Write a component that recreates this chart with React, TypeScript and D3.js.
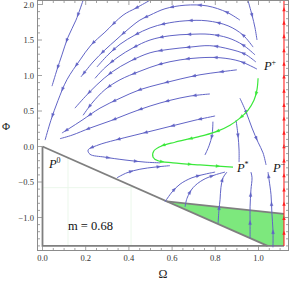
import React, { useEffect, useRef } from "react";
import * as d3 from "d3";

type Pt = [number, number];

// ---- streamlines (Ω, Φ), listed in flow direction ----
const streamA: Pt[] = [[0.188,2.06],[0.155,1.78],[0.118,1.54],[0.090,1.29],[0.067,1.08],[0.044,0.85]];
const streamB: Pt[] = [[0.498,2.06],[0.433,1.95],[0.373,1.85],[0.289,1.61],[0.225,1.43],[0.174,1.22],[0.113,0.94],[0.072,0.65],[0.039,0.37],[0.012,0.09]];
const streamTop: Pt[] = [[0.951,2.06],[0.970,1.85],[0.984,1.67],[0.993,1.50]];
const arc1: Pt[] = [[0.914,1.78],[0.854,1.89],[0.762,1.98],[0.660,1.99],[0.567,1.94],[0.498,1.85],[0.451,1.78],[0.396,1.65],[0.340,1.50],[0.289,1.36],[0.234,1.19],[0.178,0.98]];
const arc2: Pt[] = [[0.975,1.40],[0.928,1.57],[0.859,1.70],[0.762,1.77],[0.660,1.77],[0.567,1.73],[0.498,1.67],[0.428,1.57],[0.359,1.44],[0.303,1.29],[0.252,1.12]];
const arc3: Pt[] = [[0.984,1.29],[0.928,1.43],[0.859,1.53],[0.775,1.58],[0.683,1.58],[0.590,1.56],[0.498,1.50],[0.419,1.39],[0.350,1.26],[0.289,1.11],[0.243,0.96]];
const arc4: Pt[] = [[0.988,1.19],[0.938,1.30],[0.868,1.37],[0.775,1.42],[0.683,1.40],[0.590,1.37],[0.498,1.32],[0.405,1.20],[0.322,1.05],[0.252,0.87],[0.197,0.70],[0.150,0.54]];
const arc5: Pt[] = [[0.993,1.09],[0.914,1.20],[0.822,1.25],[0.729,1.25],[0.637,1.22],[0.544,1.16],[0.451,1.06],[0.359,0.94],[0.289,0.80],[0.229,0.61],[0.188,0.44]];
const arc6: Pt[] = [[0.900,1.08],[0.822,1.05],[0.729,1.01],[0.637,0.95],[0.544,0.88],[0.451,0.80],[0.359,0.68],[0.266,0.54],[0.183,0.37],[0.127,0.26],[0.090,0.19]];
const arc7: Pt[] = [[0.775,0.74],[0.683,0.71],[0.590,0.65],[0.498,0.57],[0.405,0.47],[0.313,0.36],[0.220,0.26],[0.137,0.16],[0.081,0.11]];
const arcU: Pt[] = [[0.799,0.43],[0.706,0.37],[0.613,0.30],[0.521,0.23],[0.428,0.16],[0.336,0.09],[0.257,0.02],[0.211,-0.05],[0.220,-0.11],[0.289,-0.15],[0.382,-0.19],[0.475,-0.22],[0.544,-0.23]];
const toPminus: Pt[] = [[0.914,0.68],[0.942,0.49],[0.970,0.26],[0.998,0.06],[1.021,-0.09],[1.035,-0.26]];
const aboveStar1: Pt[] = [[0.896,0.37],[0.905,0.16],[0.910,-0.05],[0.910,-0.22]];
const aboveStar2: Pt[] = [[0.789,0.35],[0.785,0.16],[0.771,0.01],[0.752,-0.12]];
const belowU: Pt[] = [[0.345,-0.44],[0.391,-0.37],[0.451,-0.32],[0.521,-0.29],[0.590,-0.27]];
const rise1: Pt[] = [[0.567,-0.78],[0.600,-0.64],[0.637,-0.53],[0.692,-0.44],[0.752,-0.39],[0.799,-0.36]];
const rise2: Pt[] = [[0.660,-0.85],[0.669,-0.73],[0.697,-0.58],[0.743,-0.47],[0.799,-0.40],[0.845,-0.36]];
const rise3: Pt[] = [[0.813,-1.08],[0.817,-0.89],[0.822,-0.75],[0.826,-0.58],[0.836,-0.44],[0.854,-0.36]];
const rise4: Pt[] = [[0.961,-1.29],[0.961,-1.06],[0.961,-0.85],[0.965,-0.61],[0.970,-0.44],[0.965,-0.36]];
const rise5: Pt[] = [[1.067,-1.42],[1.067,-1.18],[1.062,-0.94],[1.058,-0.68],[1.049,-0.47],[1.044,-0.36]];

const blueStreams: Pt[][] = [streamA, streamB, streamTop, arc1, arc2, arc3, arc4, arc5, arc6, arc7, arcU,
  toPminus, aboveStar1, aboveStar2, belowU, rise1, rise2, rise3, rise4, rise5];

// separatrix P+ -> P*
const greenStream: Pt[] = [[0.998,0.96],[0.993,0.80],[0.979,0.65],[0.951,0.51],[0.914,0.40],[0.868,0.30],[0.813,0.22],[0.752,0.16],[0.683,0.11],[0.613,0.06],[0.553,0.01],[0.516,-0.06],[0.512,-0.15],[0.535,-0.20],[0.604,-0.23],[0.729,-0.26],[0.882,-0.29]];

// invariant line Ω = Ω_max
const redOmega = 1.118;
const redPhiRange: [number, number] = [-1.40, 2.07];
const redArrowPhi = [1.93,1.74,1.55,1.35,1.16,0.98,0.78,0.58,0.39,0.19,0.0,-0.2,-0.41,-0.61,-0.81,-1.01,-1.22];

// physical region boundaries
const boundaryLeftBottom: Pt[] = [[0,0],[0,-1.40],[1.118,-1.40]];
const boundaryDiagonal: Pt[] = [[0,0],[1.042,-1.40]];
const boundaryUpper: Pt[] = [[0.575,-0.774],[1.118,-0.95]];
const greenRegion: Pt[] = [[0.575,-0.774],[1.118,-0.95],[1.118,-1.40],[1.042,-1.40]];
const meshV = [0.118, 0.41];
const meshH = [-0.58];

const xTicks = [0, 0.2, 0.4, 0.6, 0.8, 1.0];
const xTickLabels = ["0.0", "0.2", "0.4", "0.6", "0.8", "1.0"];
const yTicks = [-1.0, -0.5, 0, 0.5, 1.0, 1.5, 2.0];
const yTickLabels = ["\u22121.0", "\u22120.5", "0.0", "0.5", "1.0", "1.5", "2.0"];

const pointNames = ["0", "+", "*", "\u2212"];
const pointLabelAt: Pt[] = [[0.030, -0.30], [1.025, 1.08], [0.900, -0.36], [1.067, -0.36]];
const paramText = "m = 0.68";
const paramAt: Pt = [0.118, -1.18];

const W = 291, H = 282;
const BLUE = "#6164c6";
const GREEN = "#3be83b";
const RED = "#ff2020";
const FRAME = "#8c8c8c";

export default function App() {
  const ref = useRef<SVGSVGElement | null>(null);

  useEffect(() => {
    document.body.style.margin = "0";
    const svg = d3.select(ref.current);
    svg.selectAll("*").remove();

    const x = d3.scaleLinear().domain([0, 1]).range([42.5, 258.5]);
    const y = d3.scaleLinear().domain([0, 2]).range([146.5, 4.5]);
    const fL = 37.5, fR = 288.5, fT = 0.5, fB = 250.5;

    svg.append("rect").attr("width", W).attr("height", H).attr("fill", "white");

    const defs = svg.append("defs");
    defs.append("clipPath").attr("id", "plotclip").append("rect")
      .attr("x", fL).attr("y", fT).attr("width", fR - fL).attr("height", fB - fT);

    const g = svg.append("g").attr("clip-path", "url(#plotclip)");

    // green region
    g.append("path")
      .attr("d", d3.line<Pt>().x(d => x(d[0])).y(d => y(d[1]))(greenRegion) + "Z")
      .attr("fill", "#7de87d");

    // faint mesh
    meshV.forEach(v => {
      const yTop = y(-1.345 * v);
      g.append("line").attr("x1", x(v)).attr("x2", x(v)).attr("y1", yTop).attr("y2", y(-1.40))
        .attr("stroke", "#e6f5e6").attr("stroke-width", 0.8);
    });
    meshH.forEach(h => {
      g.append("line").attr("x1", x(0)).attr("x2", x(h / -1.345)).attr("y1", y(h)).attr("y2", y(h))
        .attr("stroke", "#e6f5e6").attr("stroke-width", 0.8);
    });

    const straight = d3.line<Pt>().x(d => x(d[0])).y(d => y(d[1]));
    [boundaryLeftBottom, boundaryDiagonal, boundaryUpper].forEach(b => {
      g.append("path").attr("d", straight(b)).attr("fill", "none")
        .attr("stroke", "#7f7f7f").attr("stroke-width", 1.8);
    });

    const smooth = d3.line<Pt>().x(d => x(d[0])).y(d => y(d[1])).curve(d3.curveCatmullRom.alpha(0.5));

    const drawArrows = (pathNode: SVGPathElement, color: string, spacing: number) => {
      const L = pathNode.getTotalLength();
      const positions: number[] = [];
      if (L < spacing) positions.push(L * 0.5);
      else for (let s = spacing * 0.55; s < L - 3; s += spacing) positions.push(s);
      positions.forEach(s => {
        const p = pathNode.getPointAtLength(s);
        const q = pathNode.getPointAtLength(Math.min(L, s + 1.5));
        const a = Math.atan2(q.y - p.y, q.x - p.x);
        const ca = Math.cos(a), sa = Math.sin(a);
        const tip = [p.x + 2.2 * ca, p.y + 2.2 * sa];
        const b1 = [p.x - 1.8 * ca - 1.5 * sa, p.y - 1.8 * sa + 1.5 * ca];
        const b2 = [p.x - 1.8 * ca + 1.5 * sa, p.y - 1.8 * sa - 1.5 * ca];
        g.append("polygon").attr("points", [tip, b1, b2].map(v => v.join(",")).join(" "))
          .attr("fill", color).attr("stroke", color).attr("stroke-width", 0.3);
      });
    };

    blueStreams.forEach(s => {
      const p = g.append("path").attr("d", smooth(s)).attr("fill", "none")
        .attr("stroke", BLUE).attr("stroke-width", 1);
      drawArrows(p.node() as SVGPathElement, BLUE, 28);
    });

    const gp = g.append("path").attr("d", smooth(greenStream)).attr("fill", "none")
      .attr("stroke", GREEN).attr("stroke-width", 1.2);
    drawArrows(gp.node() as SVGPathElement, GREEN, 28);

    // red line
    g.append("line").attr("x1", x(redOmega)).attr("x2", x(redOmega))
      .attr("y1", y(redPhiRange[0])).attr("y2", y(redPhiRange[1]))
      .attr("stroke", RED).attr("stroke-width", 1.1);
    redArrowPhi.forEach(v => {
      const cx = x(redOmega), cy = y(v);
      g.append("polygon").attr("points", `${cx},${cy - 2.4} ${cx - 1.7},${cy + 1.7} ${cx + 1.7},${cy + 1.7}`)
        .attr("fill", RED);
    });

    // frame
    svg.append("rect").attr("x", fL).attr("y", fT).attr("width", fR - fL).attr("height", fB - fT)
      .attr("fill", "none").attr("stroke", FRAME).attr("stroke-width", 1);

    const ticksG = svg.append("g").attr("stroke", FRAME).attr("stroke-width", 0.8);
    const xMinor = d3.range(0, 1.13, 0.05);
    xMinor.forEach(v => {
      const isMajor = Math.abs(v * 5 - Math.round(v * 5)) < 1e-6;
      const len = isMajor ? 4.5 : 2.5;
      ticksG.append("line").attr("x1", x(v)).attr("x2", x(v)).attr("y1", fB).attr("y2", fB - len);
      ticksG.append("line").attr("x1", x(v)).attr("x2", x(v)).attr("y1", fT).attr("y2", fT + len);
    });
    const yMinor = d3.range(-1.4, 2.05, 0.1);
    yMinor.forEach(v => {
      const isMajor = Math.abs(v * 2 - Math.round(v * 2)) < 1e-6;
      const len = isMajor ? 4.5 : 2.5;
      ticksG.append("line").attr("y1", y(v)).attr("y2", y(v)).attr("x1", fL).attr("x2", fL + len);
      ticksG.append("line").attr("y1", y(v)).attr("y2", y(v)).attr("x1", fR).attr("x2", fR - len);
    });

    const font = "'Liberation Serif', 'Times New Roman', serif";
    xTicks.forEach((v, i) => {
      svg.append("text").attr("x", x(v)).attr("y", 261).attr("text-anchor", "middle")
        .attr("font-family", font).attr("font-size", 8.5).attr("fill", "#333").text(xTickLabels[i]);
    });
    yTicks.forEach((v, i) => {
      svg.append("text").attr("x", 34).attr("y", y(v) + 3).attr("text-anchor", "end")
        .attr("font-family", font).attr("font-size", 8.5).attr("fill", "#333").text(yTickLabels[i]);
    });

    svg.append("text").attr("x", (fL + fR) / 2).attr("y", 278).attr("text-anchor", "middle")
      .attr("font-family", font).attr("font-size", 12).attr("fill", "#222").text("\u03A9");
    svg.append("text").attr("x", 6).attr("y", 130).attr("text-anchor", "middle")
      .attr("font-family", font).attr("font-size", 11).attr("fill", "#222").text("\u03A6");

    pointNames.forEach((n, i) => {
      const t = svg.append("text").attr("x", x(pointLabelAt[i][0])).attr("y", y(pointLabelAt[i][1]))
        .attr("font-family", font).attr("font-size", 12.5).attr("fill", "#111");
      t.append("tspan").attr("font-style", "italic").text("P");
      t.append("tspan").attr("font-size", 8).attr("dy", -5).text(n);
    });

    svg.append("text").attr("x", x(paramAt[0])).attr("y", y(paramAt[1]))
      .attr("font-family", font).attr("font-size", 12.5).attr("fill", "#111").text(paramText);
  }, []);

  return (
    <svg ref={ref} width={W} height={H} style={{ position: "absolute", left: 0, top: 0 }} />
  );
}
